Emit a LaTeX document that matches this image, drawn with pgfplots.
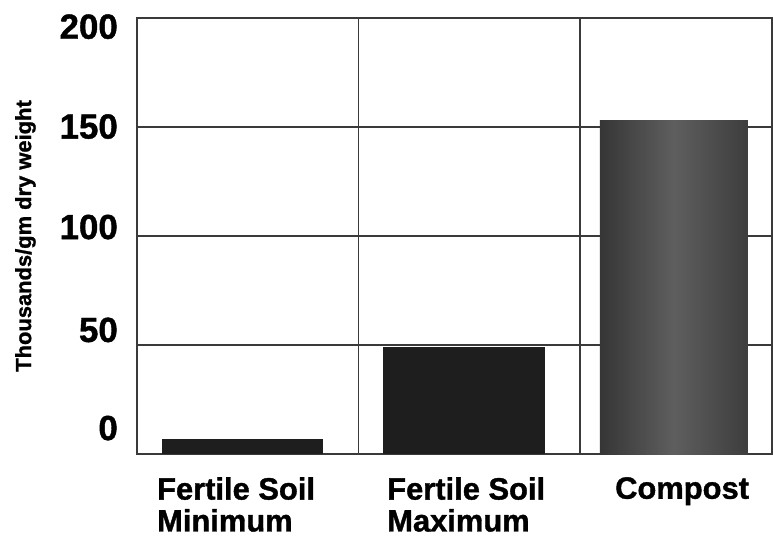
\documentclass[border=0pt]{standalone}
\usepackage{fontspec}
\setmainfont{Liberation Sans}[BoldFeatures={FakeBold=1.2}]
\usepackage{pgfplots}
\pgfplotsset{compat=1.18}
\definecolor{gridc}{HTML}{3A3A3A}
\definecolor{barc}{HTML}{1E1E1E}
\begin{document}
\begin{tikzpicture}
\begin{axis}[
  scale only axis,
  width=635bp, height=436bp,
  xmin=0, xmax=2.867,
  ymin=0, ymax=200,
  axis line style={gridc, line width=1.2pt},
  xtick={0.09,1.129,2.158},
  xticklabels={{Fertile Soil\\Minimum},{Fertile Soil\\Maximum},{Compost}},
  xticklabel style={anchor=north west, align=left, inner sep=0pt, yshift=-23bp,
    font=\fontsize{31}{32}\selectfont\bfseries},
  ytick={11.9,56.9,104.1,150.2,196},
  yticklabels={0,50,100,150,200},
  yticklabel style={anchor=east, inner sep=0pt, xshift=-19bp,
    font=\fontsize{35}{37}\selectfont\bfseries},
  /pgf/number format/assume math mode=true,
  major tick length=0pt,
  extra x ticks={1,2},
  extra x tick labels={},
  extra x tick style={grid=major},
  extra y ticks={50,100,150},
  extra y tick labels={},
  extra y tick style={grid=major},
  grid style={gridc, line width=1.1pt},
  ylabel={Thousands/gm dry weight},
  ylabel style={at={(axis description cs:-0.1921,0.5)}, anchor=north, inner sep=0pt,
    font=\fontsize{22}{24}\selectfont\bfseries},
]
\addplot[ybar, bar shift=0pt, bar width=0.727, draw=none, fill=barc] coordinates {(0.476,7)};
\addplot[ybar, bar shift=0pt, bar width=0.731, draw=none, fill=barc] coordinates {(1.476,49)};
\addplot[draw=none, left color=black!79, right color=black!76, middle color=black!63]
  coordinates {(2.09,153) (2.758,153)} \closedcycle;
\end{axis}
\path ([shift={(-137bp,-84bp)}]current axis.south west) rectangle ++(773bp,538bp);
\end{tikzpicture}
\end{document}
